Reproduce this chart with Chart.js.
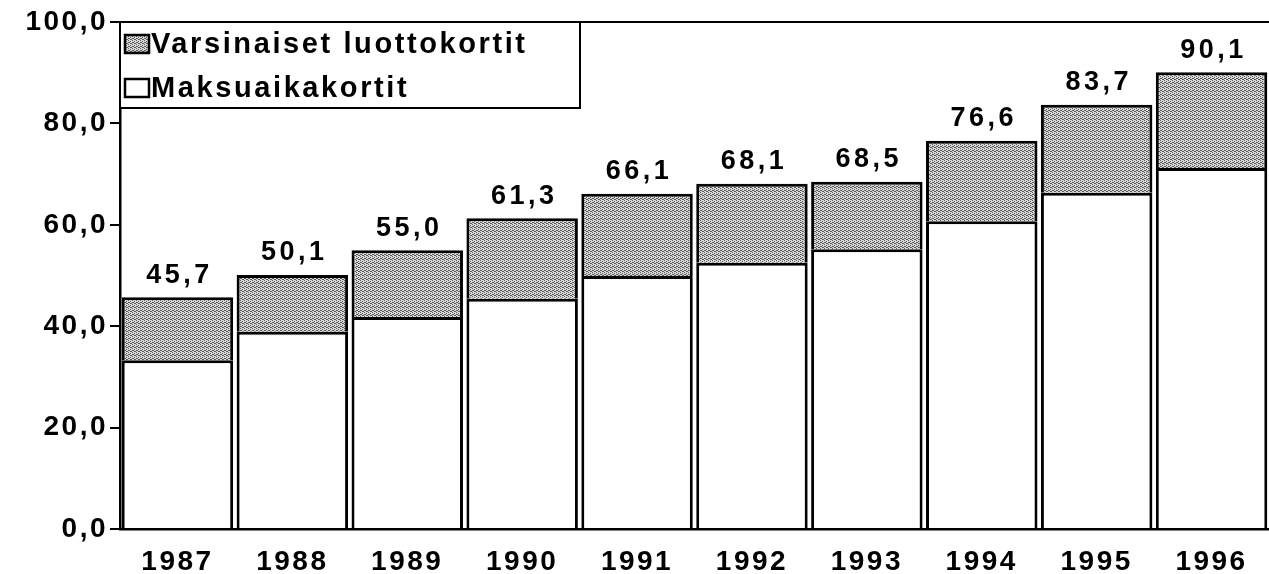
<!DOCTYPE html>
<html>
<head>
<meta charset="utf-8">
<script src="https://cdn.jsdelivr.net/npm/chart.js@4/dist/chart.umd.min.js"></script>
<style>
html, body { margin: 0; padding: 0; background: #fff; }
#wrap { width: 1269px; height: 574px; }
</style>
</head>
<body>
<div id="wrap"><canvas id="myChart" width="1269" height="574"></canvas></div>
<script>
var years = ['1987', '1988', '1989', '1990', '1991', '1992', '1993', '1994', '1995', '1996'];
// Maksuaikakortit (white, bottom)
var maksuaika = [33.3, 38.9, 41.8, 45.4, 49.9, 52.5, 55.2, 60.7, 66.3, 71.2];
// Varsinaiset luottokortit (grey, top)
var luotto = [12.4, 11.2, 13.2, 15.9, 16.2, 15.6, 13.3, 15.9, 17.4, 18.9];
var yTicks = [0, 20, 40, 60, 80, 100];
var FONT = '"Liberation Sans", Arial, sans-serif';

// stippled grey fill
function makePattern() {
    var c = document.createElement('canvas');
    c.width = 4; c.height = 4;
    var g = c.getContext('2d');
    g.fillStyle = '#d8d8d8';
    g.fillRect(0, 0, 4, 4);
    g.fillStyle = '#5a5a5a';
    g.fillRect(0, 0, 1, 1); g.fillRect(2, 1, 1, 1);
    g.fillRect(1, 2, 1, 1); g.fillRect(3, 3, 1, 1);
    g.fillRect(2, 3, 1, 1); g.fillRect(0, 2, 1, 1);
    return g.createPattern(c, 'repeat');
}
var ctx = document.getElementById('myChart');
var greyFill = makePattern();

function fmt(v) { return v.toFixed(1).replace('.', ','); }

var extras = {
    id: 'extras',
    beforeDraw: function(chart) {
        chart.ctx.letterSpacing = '2.5px';
    },
    afterDatasetsDraw: function(chart) {
        var c = chart.ctx, x = chart.scales.x, y = chart.scales.y, a = chart.chartArea;
        c.save();
        // top line at 100
        c.strokeStyle = '#000'; c.lineWidth = 2;
        c.beginPath(); c.moveTo(a.left - 10, y.getPixelForValue(100)); c.lineTo(a.right, y.getPixelForValue(100)); c.stroke();
        // totals
        c.fillStyle = '#000';
        c.font = 'bold 27px ' + FONT;
        c.letterSpacing = '3.5px';
        c.textAlign = 'center'; c.textBaseline = 'middle';
        for (var i = 0; i < years.length; i++) {
            var tot = maksuaika[i] + luotto[i];
            c.fillText(fmt(tot), x.getPixelForValue(i) + 2, y.getPixelForValue(tot) - 22);
        }
        // legend box
        var lx = a.left, ly = y.getPixelForValue(100), lw = 460, lh = 86;
        c.fillStyle = '#fff'; c.fillRect(lx, ly, lw, lh);
        c.lineWidth = 2; c.strokeStyle = '#000'; c.strokeRect(lx, ly, lw, lh);
        var items = [[greyFill, 'Varsinaiset luottokortit'], ['#fff', 'Maksuaikakortit']];
        c.textAlign = 'left';
        c.letterSpacing = '2.6px';
        c.font = 'bold 29px ' + FONT;
        for (var k = 0; k < items.length; k++) {
            var cy = ly + 22 + k * 44;
            c.fillStyle = items[k][0];
            c.fillRect(lx + 5, cy - 9, 24, 18);
            c.lineWidth = 2.5; c.strokeRect(lx + 5, cy - 9, 24, 18);
            c.fillStyle = '#000';
            c.fillText(items[k][1], lx + 31, cy + 1);
        }
        c.restore();
    }
};

var myChart = new Chart(ctx, {
    type: 'bar',
    data: {
        labels: years,
        datasets: [{
            label: 'Maksuaikakortit',
            data: maksuaika,
            backgroundColor: '#fff',
            borderColor: '#000',
            borderWidth: 3,
            barPercentage: 0.97,
            categoryPercentage: 1
        }, {
            label: 'Varsinaiset luottokortit',
            data: luotto,
            backgroundColor: greyFill,
            borderColor: '#000',
            borderWidth: 3,
            barPercentage: 0.97,
            categoryPercentage: 1
        }]
    },
    options: {
        responsive: false,
        animation: false,
        layout: { padding: { top: 22, right: 0, left: 0, bottom: 0 } },
        plugins: { legend: { display: false }, tooltip: { enabled: false } },
        scales: {
            x: {
                stacked: true,
                grid: { display: false },
                border: { color: '#000', width: 2.5 },
                ticks: { color: '#000', font: { family: FONT, size: 28, weight: 'bold' }, padding: 8 },
                afterFit: function(s) { s.height = 45; }
            },
            y: {
                stacked: true,
                min: 0, max: 100,
                afterBuildTicks: function(s) { s.ticks = yTicks.map(function(v) { return { value: v }; }); },
                grid: { display: true, drawOnChartArea: false, tickLength: 10, color: '#000', lineWidth: 2 },
                border: { color: '#000', width: 2.5 },
                ticks: {
                    color: '#000', padding: 2,
                    font: { family: FONT, size: 28, weight: 'bold' },
                    callback: function(v) { return fmt(v); }
                },
                afterFit: function(s) { s.width = 120; }
            }
        }
    },
    plugins: [extras]
});
</script>
</body>
</html>
